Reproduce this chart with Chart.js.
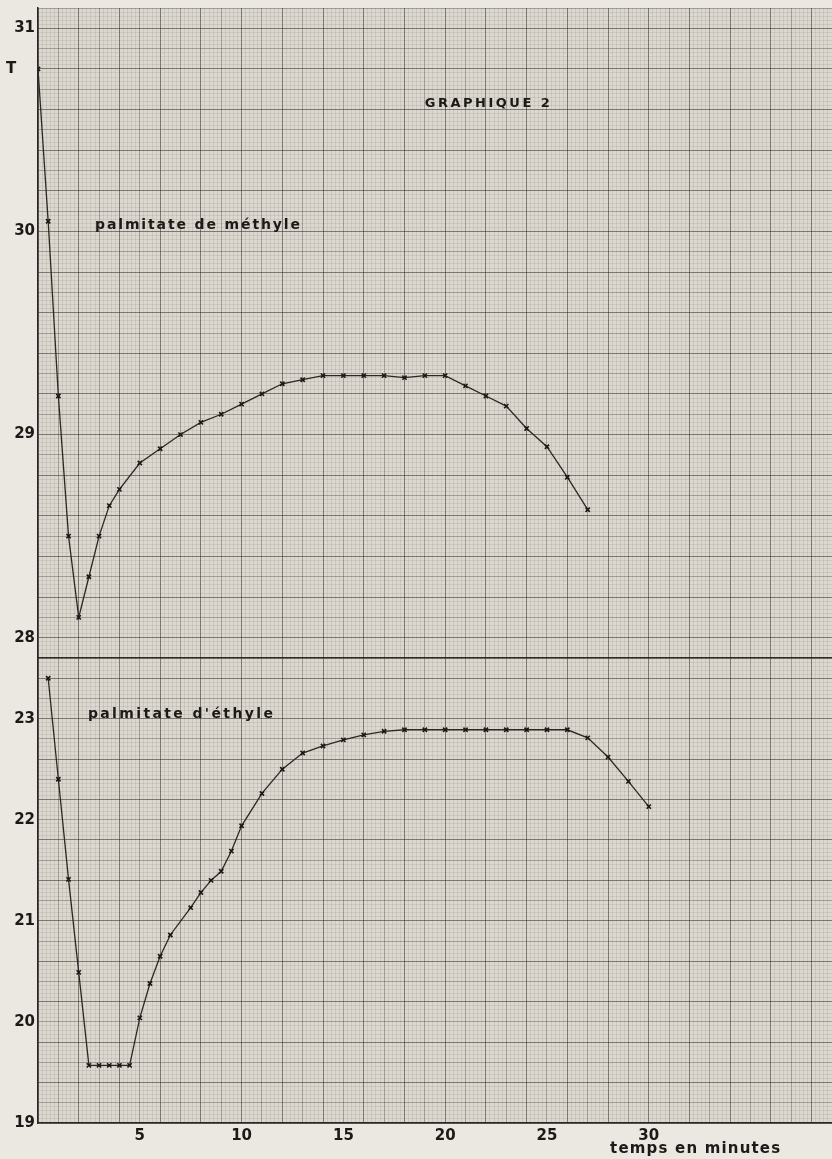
<!DOCTYPE html>
<html><head><meta charset="utf-8">
<script src="https://cdn.jsdelivr.net/npm/chart.js@4.4.1/dist/chart.umd.min.js"></script>
<style>
html,body{margin:0;padding:0;background:#ebe8e1;}
#wrap{position:relative;width:832px;height:1159px;}
</style></head><body>
<div id="wrap"><canvas id="c"></canvas></div>
<script>
// ---- data ----
const methylTime = [0, 0.5, 1, 1.5, 2, 2.5, 3, 3.5, 4, 5, 6, 7, 8, 9, 10, 11, 12, 13, 14, 15, 16, 17, 18, 19, 20, 21, 22, 23, 24, 25, 26, 27];
const methylTemp = [30.80, 30.05, 29.19, 28.50, 28.10, 28.30, 28.50, 28.65, 28.73, 28.86, 28.93, 29.00, 29.06, 29.10, 29.15, 29.20, 29.25, 29.27, 29.29, 29.29, 29.29, 29.29, 29.28, 29.29, 29.29, 29.24, 29.19, 29.14, 29.03, 28.94, 28.79, 28.63];
const ethylTime = [0.5, 1, 1.5, 2, 2.5, 3, 3.5, 4, 4.5, 5, 5.5, 6, 6.5, 7.5, 8, 8.5, 9, 9.5, 10, 11, 12, 13, 14, 15, 16, 17, 18, 19, 20, 21, 22, 23, 24, 25, 26, 27, 28, 29, 30];
const ethylTemp = [23.40, 22.40, 21.41, 20.49, 19.57, 19.57, 19.57, 19.57, 19.57, 20.04, 20.38, 20.65, 20.86, 21.13, 21.28, 21.40, 21.49, 21.69, 21.94, 22.26, 22.50, 22.66, 22.73, 22.79, 22.84, 22.875, 22.89, 22.89, 22.89, 22.89, 22.89, 22.89, 22.89, 22.89, 22.89, 22.81, 22.62, 22.38, 22.13];
const xTickLabels = [5, 10, 15, 20, 25, 30];
const methylTickLabels = [28, 29, 30, 31];
const ethylTickLabels = [19, 20, 21, 22, 23];
const methylName = 'palmitate de méthyle';
const ethylName = "palmitate d'éthyle";
const titleText = 'GRAPHIQUE 2';
const xTitle = 'temps en minutes';
const yTitle = 'T';

// ---- styling helpers ----
function near(v, step){ const q = v/step; return Math.abs(q - Math.round(q)) < 1e-6; }
const GRID = {
  major: {c:'rgba(45,42,38,0.55)', w:1},
  medium:{c:'rgba(60,56,52,0.36)', w:1},
  fine:  {c:'rgba(100,95,88,0.13)', w:1},
  brk:   {c:'rgba(40,36,32,0.80)', w:1.6}
};
function kind(v, origin, majorStep, medStep){
  const d = Math.round((v - origin)*1000)/1000;
  if (near(d, majorStep)) return 'major';
  if (near(d, medStep)) return 'medium';
  return 'fine';
}
function inList(v, list){ return list.some(t => Math.abs(t - v) < 1e-6); }

const paperBg = {
  id:'paperBg',
  beforeDraw(chart){
    const {ctx, chartArea:a} = chart;
    ctx.save(); ctx.fillStyle = '#dcd8cf';
    ctx.fillRect(a.left, a.top, a.right-a.left, a.bottom-a.top);
    ctx.restore();
  }
};

function spacedText(ctx, text, x, y, font, targetW){
  ctx.font = font;
  ctx.letterSpacing = '0px';
  const w = ctx.measureText(text).width;
  const n = text.length;
  const sp = n > 1 ? Math.max(0, (targetW - w)/(n-1)) : 0;
  ctx.letterSpacing = sp.toFixed(2) + 'px';
  ctx.fillText(text, x, y);
  ctx.letterSpacing = '0px';
}

const labels = {
  id:'labels',
  afterDatasetsDraw(chart){
    const {ctx, scales:{x, yM, yE}, chartArea:a} = chart;
    ctx.save();
    ctx.fillStyle = '#1c1a18';
    ctx.textBaseline = 'middle';
    ctx.textAlign = 'left';
    spacedText(ctx, titleText, x.getPixelForValue(19.0), yM.getPixelForValue(30.63), 'bold 13px "DejaVu Sans"', 125);
    spacedText(ctx, methylName, x.getPixelForValue(2.8), yM.getPixelForValue(30.03), 'bold 14px "DejaVu Sans"', 205);
    spacedText(ctx, ethylName, x.getPixelForValue(2.45), yE.getPixelForValue(23.04), 'bold 14px "DejaVu Sans"', 185);
    spacedText(ctx, xTitle, x.getPixelForValue(28.1), a.bottom + 26, 'bold 15px "DejaVu Sans"', 170);
    ctx.font = 'bold 15px "DejaVu Sans"';
    ctx.fillText(yTitle, 6, yM.getPixelForValue(30.8));
    ctx.restore();
  }
};

const ds = (xs, ys) => xs.map((v, i) => ({x: v, y: ys[i]}));
const lineStyle = {
  borderColor:'#2a2826', borderWidth:1.3, tension:0,
  pointStyle:'crossRot', pointRadius:3, pointBorderWidth:1.6,
  pointBorderColor:'#1a1816', pointBackgroundColor:'#1a1816', fill:false
};

new Chart(document.getElementById('c'), {
  type:'line',
  data:{ datasets:[
    Object.assign({label: ethylName, data: ds(ethylTime, ethylTemp), yAxisID:'yE'}, lineStyle),
    Object.assign({label: methylName, data: ds(methylTime, methylTemp), yAxisID:'yM'}, lineStyle)
  ]},
  options:{
    responsive:true, maintainAspectRatio:false, animation:false,
    layout:{autoPadding:false, padding:{top:8, left:0, right:0, bottom:0}},
    plugins:{legend:{display:false}, tooltip:{enabled:false}},
    scales:{
      x:{
        type:'linear', min:0, max:39,
        border:{display:true, color:'#2a2724', width:1.5},
        grid:{drawTicks:false,
          color: c => GRID[kind(c.tick.value, 0, 2, 1)].c,
          lineWidth: c => GRID[kind(c.tick.value, 0, 2, 1)].w},
        ticks:{stepSize:0.2, precision:1, autoSkip:false, maxRotation:0, minRotation:0, padding:4,
          color:'#1c1a18', font:{family:'"DejaVu Sans"', size:15, weight:'bold'},
          callback: v => inList(v, xTickLabels) ? String(Math.round(v)) : ''},
        afterFit: s => { s.height = 36; s.paddingLeft = 0; s.paddingRight = 0; }
      },
      yE:{
        type:'linear', position:'left', stack:'t', stackWeight:465, weight:1,
        min:19, max:23.6,
        border:{display:true, color:'#2a2724', width:1.5},
        grid:{drawTicks:false,
          color: c => Math.abs(c.tick.value-23.6)<1e-6 ? GRID.brk.c : GRID[kind(c.tick.value, 19, 0.4, 0.2)].c,
          lineWidth: c => Math.abs(c.tick.value-23.6)<1e-6 ? GRID.brk.w : GRID[kind(c.tick.value, 19, 0.4, 0.2)].w},
        ticks:{stepSize:0.04, precision:2, autoSkip:false, padding:3,
          color:'#1c1a18', font:{family:'"DejaVu Sans"', size:15, weight:'bold'},
          callback: v => inList(v, ethylTickLabels) ? String(Math.round(v)) : ''},
        afterFit: s => { s.width = 38; s.paddingTop = 0; s.paddingBottom = 0; }
      },
      yM:{
        type:'linear', position:'left', stack:'t', stackWeight:650, weight:2,
        min:27.9, max:31.1,
        border:{display:true, color:'#2a2724', width:1.5},
        grid:{drawTicks:false,
          color: c => Math.abs(c.tick.value-27.9)<1e-6 ? GRID.brk.c : GRID[kind(c.tick.value, 28, 0.2, 0.1)].c,
          lineWidth: c => Math.abs(c.tick.value-27.9)<1e-6 ? GRID.brk.w : GRID[kind(c.tick.value, 28, 0.2, 0.1)].w},
        ticks:{stepSize:0.02, precision:2, autoSkip:false, padding:3,
          color:'#1c1a18', font:{family:'"DejaVu Sans"', size:15, weight:'bold'},
          callback: v => inList(v, methylTickLabels) ? String(Math.round(v)) : ''},
        afterFit: s => { s.width = 38; s.paddingTop = 0; s.paddingBottom = 0; }
      }
    }
  },
  plugins:[paperBg, labels]
});
</script>
</body></html>
